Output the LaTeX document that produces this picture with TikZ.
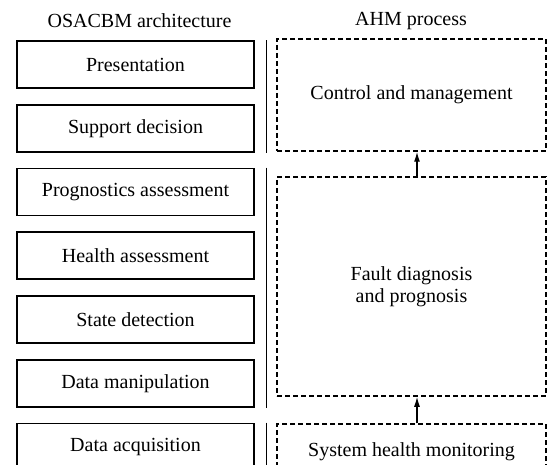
\documentclass[tikz,border=0pt]{standalone}
\usepackage{fontspec}
\setmainfont{Liberation Serif}
\usetikzlibrary{calc}
\usetikzlibrary{arrows.meta}
\tikzset{
	layer/.style={draw,line width=1.6pt,minimum width=237pt,minimum height=47pt,inner sep=0pt},
	stage/.style={draw,dash pattern=on 5pt off 3pt,line width=1.5pt,minimum width=269pt,inner sep=0pt,align=center},
	divider/.style={line width=1pt},
	flow/.style={line width=1.3pt,-{Latex[length=10pt,width=6pt]}}
}
\begin{document}
\begin{tikzpicture}[x=1pt,y=-1pt,font=\fontsize{20}{22}\selectfont]
\clip (0,0) rectangle (548,465);
\node at (139.5,21) (osa) {OSACBM architecture};
\node at (411,21) (ahm) {AHM process};
% OSACBM layers
\foreach \t [count=\i from 0] in {Presentation,Support decision,Prognostics assessment,Health assessment,State detection,Data manipulation,Data acquisition}
	\node[layer] at (135.5,64.5+63.75*\i) (l\i) {\t};
\coordinate (sep) at (266,0);
\draw[divider] (l0.north -| sep) -- (l1.south -| sep);
\draw[divider] (l2.north -| sep) -- (l5.south -| sep);
\draw[divider] (l6.north -| sep) -- (l6.south -| sep);
% AHM stages
\node[stage,minimum height=112pt] at (411.5,95) (ctrl) {Control and management};
\node[stage,minimum height=219pt] at (411.5,286.5) (fault) {Fault diagnosis\\and prognosis};
\node[stage,minimum height=56pt] at (411.5,452) (mon) {System health monitoring};
\draw[flow] ($(mon.north)+(5.5,0)$) -- ($(fault.south)+(5.5,0)$);
\draw[flow] ($(fault.north)+(5.5,0)$) -- ($(ctrl.south)+(5.5,0)$);
\end{tikzpicture}
\end{document}
